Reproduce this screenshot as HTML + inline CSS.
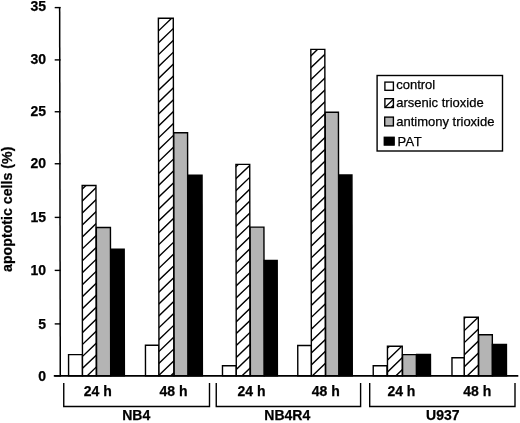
<!DOCTYPE html>
<html><head><meta charset="utf-8"><title>apoptotic cells</title>
<style>
html,body{margin:0;padding:0;background:#fff;}
body{width:520px;height:423px;overflow:hidden;}
svg{display:block;}
text{font-family:"Liberation Sans",Arial,Helvetica,sans-serif;fill:#000;stroke:#000;stroke-width:0.25px;}
.b{font-weight:bold;font-size:14px;}
.l{font-size:13px;}
</style></head><body>
<svg width="520" height="423" viewBox="0 0 520 423">
<rect x="0" y="0" width="520" height="423" fill="#fff"/>

<defs>
<clipPath id="c1"><rect x="82.50" y="185.50" width="13.80" height="190.40"/></clipPath>
<clipPath id="c5"><rect x="159.00" y="18.25" width="14.90" height="357.65"/></clipPath>
<clipPath id="c9"><rect x="236.30" y="164.40" width="13.80" height="211.50"/></clipPath>
<clipPath id="c13"><rect x="311.40" y="49.40" width="14.00" height="326.50"/></clipPath>
<clipPath id="c17"><rect x="387.50" y="346.20" width="14.80" height="29.70"/></clipPath>
<clipPath id="c21"><rect x="464.30" y="317.20" width="14.10" height="58.70"/></clipPath>
<clipPath id="cl"><rect x="384.9" y="98.7" width="8.5" height="8.8"/></clipPath>
</defs>
<g transform="translate(-0.66 0) skewX(0.1)">
<rect x="68.60" y="354.60" width="13.90" height="21.30" fill="#fff" stroke="#000" stroke-width="1.40"/>
<rect x="82.50" y="185.50" width="13.80" height="190.40" fill="#fff" stroke="#000" stroke-width="1.40"/>
<path d="M80.50 167.14L98.30 150.05M80.50 179.09L98.30 162.00M80.50 191.04L98.30 173.95M80.50 202.99L98.30 185.90M80.50 214.94L98.30 197.85M80.50 226.89L98.30 209.80M80.50 238.84L98.30 221.75M80.50 250.79L98.30 233.70M80.50 262.74L98.30 245.65M80.50 274.69L98.30 257.60M80.50 286.64L98.30 269.55M80.50 298.59L98.30 281.50M80.50 310.54L98.30 293.45M80.50 322.49L98.30 305.40M80.50 334.44L98.30 317.35M80.50 346.39L98.30 329.30M80.50 358.34L98.30 341.25M80.50 370.29L98.30 353.20M80.50 382.24L98.30 365.15M80.50 394.19L98.30 377.10M80.50 406.14L98.30 389.05" clip-path="url(#c1)" stroke="#000" stroke-width="1.4" fill="none"/>
<rect x="96.60" y="227.50" width="14.10" height="148.40" fill="#b4b4b4" stroke="#000" stroke-width="1.40"/>
<rect x="111.00" y="249.30" width="13.40" height="126.60" fill="#000" stroke="#000" stroke-width="1.40"/>
<rect x="145.50" y="345.20" width="13.50" height="30.70" fill="#fff" stroke="#000" stroke-width="1.40"/>
<rect x="159.00" y="18.25" width="14.90" height="357.65" fill="#fff" stroke="#000" stroke-width="1.40"/>
<path d="M157.00 -2.72L175.90 -20.86M157.00 9.15L175.90 -8.99M157.00 21.02L175.90 2.88M157.00 32.89L175.90 14.75M157.00 44.76L175.90 26.62M157.00 56.63L175.90 38.49M157.00 68.50L175.90 50.36M157.00 80.37L175.90 62.23M157.00 92.24L175.90 74.10M157.00 104.11L175.90 85.97M157.00 115.98L175.90 97.84M157.00 127.85L175.90 109.71M157.00 139.72L175.90 121.58M157.00 151.59L175.90 133.45M157.00 163.46L175.90 145.32M157.00 175.33L175.90 157.19M157.00 187.20L175.90 169.06M157.00 199.07L175.90 180.93M157.00 210.94L175.90 192.80M157.00 222.81L175.90 204.67M157.00 234.68L175.90 216.54M157.00 246.55L175.90 228.41M157.00 258.42L175.90 240.28M157.00 270.29L175.90 252.15M157.00 282.16L175.90 264.02M157.00 294.03L175.90 275.89M157.00 305.90L175.90 287.76M157.00 317.77L175.90 299.63M157.00 329.64L175.90 311.50M157.00 341.51L175.90 323.37M157.00 353.38L175.90 335.24M157.00 365.25L175.90 347.11M157.00 377.12L175.90 358.98M157.00 388.99L175.90 370.85M157.00 400.86L175.90 382.72M157.00 412.73L175.90 394.59" clip-path="url(#c5)" stroke="#000" stroke-width="1.4" fill="none"/>
<rect x="174.20" y="132.70" width="13.80" height="243.20" fill="#b4b4b4" stroke="#000" stroke-width="1.40"/>
<rect x="188.30" y="175.10" width="14.10" height="200.80" fill="#000" stroke="#000" stroke-width="1.40"/>
<rect x="222.50" y="365.75" width="13.75" height="10.15" fill="#fff" stroke="#000" stroke-width="1.40"/>
<rect x="236.30" y="164.40" width="13.80" height="211.50" fill="#fff" stroke="#000" stroke-width="1.40"/>
<path d="M234.30 144.83L252.10 127.74M234.30 156.75L252.10 139.66M234.30 168.67L252.10 151.58M234.30 180.59L252.10 163.50M234.30 192.51L252.10 175.42M234.30 204.43L252.10 187.34M234.30 216.35L252.10 199.26M234.30 228.27L252.10 211.18M234.30 240.19L252.10 223.10M234.30 252.11L252.10 235.02M234.30 264.03L252.10 246.94M234.30 275.95L252.10 258.86M234.30 287.87L252.10 270.78M234.30 299.79L252.10 282.70M234.30 311.71L252.10 294.62M234.30 323.63L252.10 306.54M234.30 335.55L252.10 318.46M234.30 347.47L252.10 330.38M234.30 359.39L252.10 342.30M234.30 371.31L252.10 354.22M234.30 383.23L252.10 366.14M234.30 395.15L252.10 378.06M234.30 407.07L252.10 389.98" clip-path="url(#c9)" stroke="#000" stroke-width="1.4" fill="none"/>
<rect x="250.40" y="227.10" width="13.80" height="148.80" fill="#b4b4b4" stroke="#000" stroke-width="1.40"/>
<rect x="264.40" y="260.40" width="13.00" height="115.50" fill="#000" stroke="#000" stroke-width="1.40"/>
<rect x="297.80" y="345.50" width="13.70" height="30.40" fill="#fff" stroke="#000" stroke-width="1.40"/>
<rect x="311.40" y="49.40" width="14.00" height="326.50" fill="#fff" stroke="#000" stroke-width="1.40"/>
<path d="M309.40 34.02L327.40 16.74M309.40 45.91L327.40 28.63M309.40 57.79L327.40 40.51M309.40 69.68L327.40 52.40M309.40 81.56L327.40 64.28M309.40 93.45L327.40 76.17M309.40 105.33L327.40 88.05M309.40 117.22L327.40 99.94M309.40 129.10L327.40 111.82M309.40 140.99L327.40 123.71M309.40 152.87L327.40 135.59M309.40 164.76L327.40 147.48M309.40 176.64L327.40 159.36M309.40 188.53L327.40 171.25M309.40 200.41L327.40 183.13M309.40 212.30L327.40 195.02M309.40 224.18L327.40 206.90M309.40 236.07L327.40 218.79M309.40 247.95L327.40 230.67M309.40 259.84L327.40 242.56M309.40 271.72L327.40 254.44M309.40 283.61L327.40 266.33M309.40 295.49L327.40 278.21M309.40 307.38L327.40 290.10M309.40 319.26L327.40 301.98M309.40 331.15L327.40 313.87M309.40 343.03L327.40 325.75M309.40 354.92L327.40 337.64M309.40 366.80L327.40 349.52M309.40 378.69L327.40 361.41M309.40 390.57L327.40 373.29M309.40 402.46L327.40 385.18M309.40 414.34L327.40 397.06" clip-path="url(#c13)" stroke="#000" stroke-width="1.4" fill="none"/>
<rect x="325.70" y="112.20" width="13.20" height="263.70" fill="#b4b4b4" stroke="#000" stroke-width="1.40"/>
<rect x="339.10" y="175.00" width="13.20" height="200.90" fill="#000" stroke="#000" stroke-width="1.40"/>
<rect x="373.25" y="365.75" width="13.75" height="10.15" fill="#fff" stroke="#000" stroke-width="1.40"/>
<rect x="387.50" y="346.20" width="14.80" height="29.70" fill="#fff" stroke="#000" stroke-width="1.40"/>
<path d="M385.50 326.29L404.30 308.24M385.50 338.19L404.30 320.14M385.50 350.09L404.30 332.04M385.50 361.99L404.30 343.94M385.50 373.89L404.30 355.84M385.50 385.79L404.30 367.74M385.50 397.69L404.30 379.64M385.50 409.59L404.30 391.54" clip-path="url(#c17)" stroke="#000" stroke-width="1.4" fill="none"/>
<rect x="402.60" y="354.60" width="13.80" height="21.30" fill="#b4b4b4" stroke="#000" stroke-width="1.40"/>
<rect x="416.70" y="354.50" width="13.80" height="21.40" fill="#000" stroke="#000" stroke-width="1.40"/>
<rect x="452.00" y="357.75" width="12.50" height="18.15" fill="#fff" stroke="#000" stroke-width="1.40"/>
<rect x="464.30" y="317.20" width="14.10" height="58.70" fill="#fff" stroke="#000" stroke-width="1.40"/>
<path d="M462.30 296.59L480.40 279.22M462.30 308.59L480.40 291.22M462.30 320.59L480.40 303.22M462.30 332.59L480.40 315.22M462.30 344.59L480.40 327.22M462.30 356.59L480.40 339.22M462.30 368.59L480.40 351.22M462.30 380.59L480.40 363.22M462.30 392.59L480.40 375.22M462.30 404.59L480.40 387.22" clip-path="url(#c21)" stroke="#000" stroke-width="1.4" fill="none"/>
<rect x="478.70" y="334.70" width="13.70" height="41.20" fill="#b4b4b4" stroke="#000" stroke-width="1.40"/>
<rect x="492.50" y="344.50" width="14.00" height="31.40" fill="#000" stroke="#000" stroke-width="1.40"/>
<path d="M60.3 7.0V376.6" stroke="#000" stroke-width="1.5" fill="none"/>
</g>
<path d="M53.8 375.90H518.3" stroke="#000" stroke-width="1.6" fill="none"/>
<path d="M54.7 7.60H60.6" stroke="#000" stroke-width="1.4" fill="none"/>
<text class="b" x="46.1" y="10.60" text-anchor="end">35</text>
<path d="M54.7 59.90H60.6" stroke="#000" stroke-width="1.4" fill="none"/>
<text class="b" x="46.1" y="63.50" text-anchor="end">30</text>
<path d="M54.7 111.75H60.6" stroke="#000" stroke-width="1.4" fill="none"/>
<text class="b" x="46.1" y="115.80" text-anchor="end">25</text>
<path d="M54.7 163.75H60.6" stroke="#000" stroke-width="1.4" fill="none"/>
<text class="b" x="46.1" y="167.90" text-anchor="end">20</text>
<path d="M54.7 217.40H60.6" stroke="#000" stroke-width="1.4" fill="none"/>
<text class="b" x="46.1" y="221.50" text-anchor="end">15</text>
<path d="M54.7 270.40H60.6" stroke="#000" stroke-width="1.4" fill="none"/>
<text class="b" x="46.1" y="274.60" text-anchor="end">10</text>
<path d="M54.7 323.90H60.6" stroke="#000" stroke-width="1.4" fill="none"/>
<text class="b" x="46.1" y="328.50" text-anchor="end">5</text>
<path d="M54.7 375.90H60.6" stroke="#000" stroke-width="1.4" fill="none"/>
<text class="b" x="46.1" y="380.50" text-anchor="end">0</text>
<text class="b" style="font-size:14.2px" transform="translate(12.3 209.3) rotate(-90)" text-anchor="middle">apoptotic cells (%)</text>
<path d="M63.75 383.0V406.5H209.50V383.0" stroke="#000" stroke-width="1.4" fill="none"/>
<path d="M216.25 383.0V406.5H360.60V383.0" stroke="#000" stroke-width="1.4" fill="none"/>
<path d="M369.70 383.0V406.5H515.00V383.0" stroke="#000" stroke-width="1.4" fill="none"/>
<text class="b" x="97.75" y="396.3" text-anchor="middle">24 h</text>
<text class="b" x="173.50" y="396.3" text-anchor="middle">48 h</text>
<text class="b" x="251.50" y="396.3" text-anchor="middle">24 h</text>
<text class="b" x="325.80" y="396.3" text-anchor="middle">48 h</text>
<text class="b" x="401.40" y="396.3" text-anchor="middle">24 h</text>
<text class="b" x="477.25" y="396.3" text-anchor="middle">48 h</text>
<text class="b" x="136.25" y="420.3" text-anchor="middle">NB4</text>
<text class="b" x="287.25" y="420.3" text-anchor="middle">NB4R4</text>
<text class="b" x="442.75" y="420.3" text-anchor="middle">U937</text>
<rect x="377.1" y="75.5" width="125.4" height="75.5" fill="#fff" stroke="#000" stroke-width="1.4"/>
<rect x="384.9" y="82.1" width="8.5" height="8.2" fill="#fff" stroke="#000" stroke-width="1.35"/>
<rect x="384.9" y="98.7" width="8.5" height="8.8" fill="#fff" stroke="#000" stroke-width="1.4"/>
<path d="M383.6 108.8L394.6 98.0M389.8 108.8L394.8 103.8" clip-path="url(#cl)" stroke="#000" stroke-width="1.3" fill="none"/>
<rect x="384.7" y="117.1" width="8.7" height="8.8" fill="#b4b4b4" stroke="#000" stroke-width="1.35"/>
<rect x="384.0" y="137.0" width="10.4" height="8.3" fill="#000" stroke="#000" stroke-width="0.8"/>
<text class="l" x="396.2" y="89.30">control</text>
<text class="l" x="396.2" y="106.80">arsenic trioxide</text>
<text class="l" x="396.2" y="125.50">antimony trioxide</text>
<text class="l" x="397.6" y="146.0" textLength="24" lengthAdjust="spacing">PAT</text>
</svg></body></html>
